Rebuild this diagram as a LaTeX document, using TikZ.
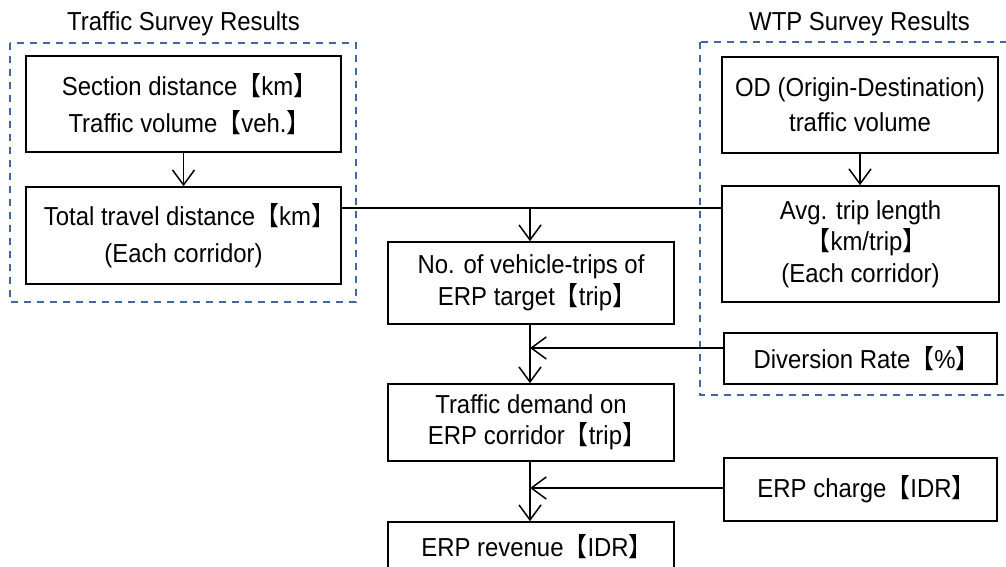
\documentclass[tikz,border=0pt]{standalone}
\usepackage{fontspec}
\setmainfont{Liberation Sans}[FakeStretch=0.92]
\newfontfamily\cjkfont{Noto Sans CJK JP}[FakeStretch=0.92]
\usetikzlibrary{arrows.meta,calc}
\newcommand\lbk{{\cjkfont 【}}
\newcommand\rbk{{\cjkfont 】}\kern-0.46em}
\definecolor{dashblue}{RGB}{65,105,160}
\begin{document}
\begin{tikzpicture}[x=1pt,y=-1pt,
  box/.style={draw, line width=1.6pt, inner sep=0pt, align=center},
  fsA/.style={font=\fontsize{26}{36.5}\selectfont},
  fsB/.style={font=\fontsize{26}{31.5}\selectfont},
  conn/.style={line width=1.5pt},
  flow/.style={conn, -{Straight Barb[length=15pt,width=22pt,line width=1.5pt]}},
  groupbox/.style={draw=dashblue, line width=1.5pt, dash pattern=on 7pt off 6pt},
  title/.style={font=\fontsize{26}{30}\selectfont, inner sep=0pt}]
\useasboundingbox[fill=white] (0,0) rectangle (1006,567);

% group frames
\draw[groupbox] (10,43) rectangle (356,302);
\draw[groupbox] (700,42) rectangle (1014,395);
\node[title] (t1) at (183.5,24) {Traffic Survey Results};
\node[title] (t2) at (859.5,24) {WTP Survey Results};

% boxes
\node[box,fsA,minimum width=315pt,minimum height=96pt] (sec) at (183.5,104)
  {Section distance\lbk km\rbk\\Traffic volume\lbk veh.\rbk};
\node[box,fsA,minimum width=315pt,minimum height=97pt] (tot) at (183.5,235.5)
  {Total travel distance\lbk km\rbk\\(Each corridor)};
\node[box,font=\fontsize{26}{35}\selectfont,minimum width=276pt,minimum height=96pt] (od) at (860,105)
  {OD (Origin-Destination)\\traffic volume};
\node[box,fsB,minimum width=277pt,minimum height=116pt] (avg) at (860.5,244)
  {Avg. trip length\\\lbk km/trip\rbk\\(Each corridor)};
\node[box,fsB,minimum width=286pt,minimum height=82pt] (nov) at (531,283)
  {No. of vehicle-trips of\\ERP target\lbk trip\rbk};
\node[box,fsB,minimum width=286pt,minimum height=77pt] (dem) at (531,422.5)
  {Traffic demand on\\ERP corridor\lbk trip\rbk};
\node[box,fsB,minimum width=286pt,minimum height=50pt] (rev) at (531,547)
  {ERP revenue\lbk IDR\rbk};
\node[box,fsB,minimum width=273pt,minimum height=51pt] (div) at (860.5,358.5)
  {\raisebox{-4pt}{Diversion Rate\lbk\%\rbk}};
\node[box,fsB,minimum width=273pt,minimum height=63pt] (chg) at (860.5,489.5)
  {ERP charge\lbk IDR\rbk};

% junctions
\coordinate (j1) at (530,208);
\coordinate (j2) at (530,348);
\coordinate (j3) at (530,488);

% connectors
\draw[flow] (sec.south) -- (tot.north);
\draw[flow] (od.south) -- (od.south |- avg.north);
\draw[conn] (j1 -| tot.east) -- (j1 -| avg.west);
\draw[flow] (j1) -- (j1 |- nov.north);
\draw[flow] (j1 |- nov.south) -- (j1 |- dem.north);
\draw[flow] (j2 -| div.west) -- (j2);
\draw[flow] (j1 |- dem.south) -- (j1 |- rev.north);
\draw[flow] (j3 -| chg.west) -- (j3);
\end{tikzpicture}
\end{document}
